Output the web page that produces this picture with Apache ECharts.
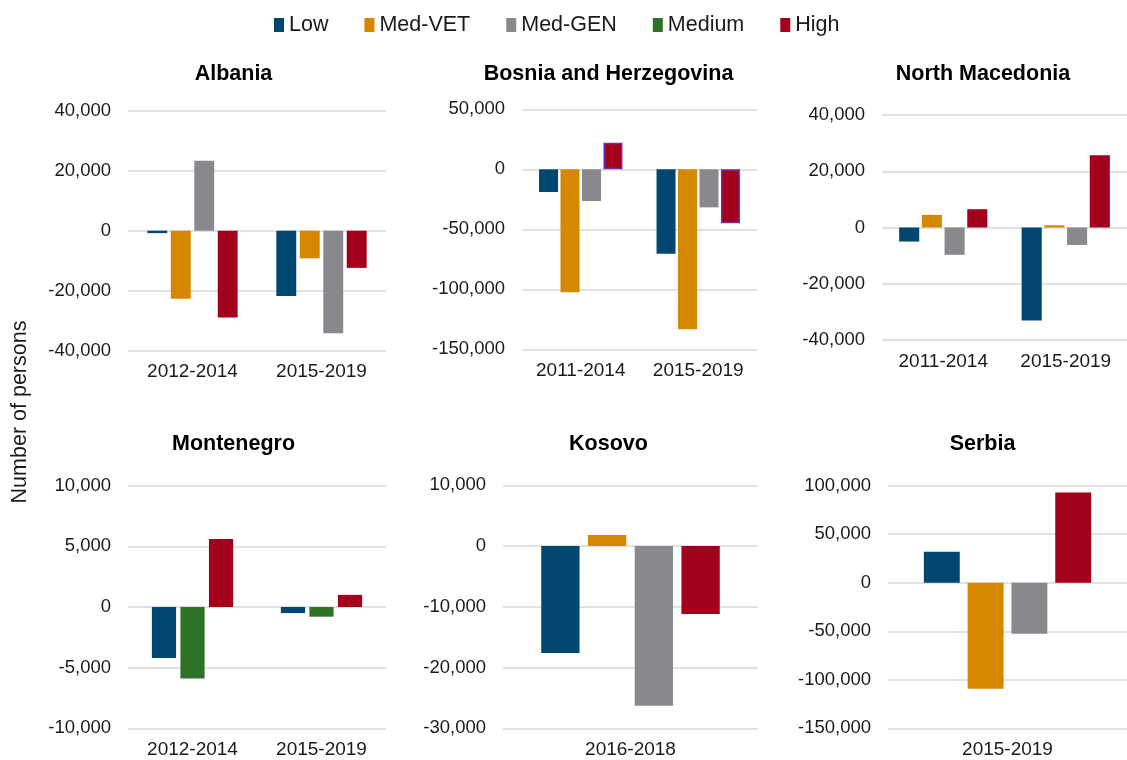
<!DOCTYPE html>
<html>
<head>
<meta charset="utf-8">
<script src="https://cdn.jsdelivr.net/npm/echarts@6/dist/echarts.min.js"></script>
<style>
html,body{margin:0;padding:0;background:#fff;}
#chart{width:1127px;height:760px;}
</style>
</head>
<body>
<div id="chart"></div>
<script>
// ---- Data ----
const seriesNames = ['Low', 'Med-VET', 'Med-GEN', 'Medium', 'High'];

const albaniaCats = ['2012-2014', '2015-2019'];
const albaniaLow = [-800, -21800];
const albaniaMedVET = [-22700, -9200];
const albaniaMedGEN = [23300, -34200];
const albaniaHigh = [-28900, -12400];

const bosniaCats = ['2011-2014', '2015-2019'];
const bosniaLow = [-18900, -70300];
const bosniaMedVET = [-102500, -133300];
const bosniaMedGEN = [-26400, -31700];
const bosniaHigh = [22200, -45000];

const macedoniaCats = ['2011-2014', '2015-2019'];
const macedoniaLow = [-5000, -33100];
const macedoniaMedVET = [4500, 800];
const macedoniaMedGEN = [-9700, -6200];
const macedoniaHigh = [6500, 25700];

const montenegroCats = ['2012-2014', '2015-2019'];
const montenegroLow = [-4200, -500];
const montenegroMedium = [-5900, -800];
const montenegroHigh = [5600, 1000];

const kosovoCats = ['2016-2018'];
const kosovoLow = [-17600];
const kosovoMedVET = [1800];
const kosovoMedGEN = [-26300];
const kosovoHigh = [-11200];

const serbiaCats = ['2015-2019'];
const serbiaLow = [32000];
const serbiaMedVET = [-109300];
const serbiaMedGEN = [-52600];
const serbiaHigh = [93100];

// ---- Styling ----
const colors = {
  'Low': '#00476f',
  'Med-VET': '#d68700',
  'Med-GEN': '#89888c',
  'Medium': '#2e7227',
  'High': '#a3001c'
};
const FONT = "'Liberation Sans', Arial, sans-serif";
const TXT = '#1a1a1a';

const panels = [
  { title: 'Albania', cx: 228.5, ty: 58, cats: albaniaCats,
    grid: {left: 128, top: 110.7, width: 258, height: 240},
    y: {min: -40000, max: 40000, interval: 20000},
    gap: '18%', catGap: '30%',
    series: [['Low', albaniaLow], ['Med-VET', albaniaMedVET], ['Med-GEN', albaniaMedGEN], ['High', albaniaHigh]] },
  { title: 'Bosnia and Herzegovina', cx: 603.5, ty: 58, cats: bosniaCats,
    grid: {left: 522, top: 109.3, width: 235, height: 240},
    y: {min: -150000, max: 50000, interval: 50000},
    gap: '13%', catGap: '29%', highBorder: '#7030a0',
    series: [['Low', bosniaLow], ['Med-VET', bosniaMedVET], ['Med-GEN', bosniaMedGEN], ['High', bosniaHigh]] },
  { title: 'North Macedonia', cx: 978, ty: 58, cats: macedoniaCats,
    grid: {left: 882, top: 115, width: 249, height: 225},
    y: {min: -40000, max: 40000, interval: 20000},
    gap: '13%', catGap: '28%',
    series: [['Low', macedoniaLow], ['Med-VET', macedoniaMedVET], ['Med-GEN', macedoniaMedGEN], ['High', macedoniaHigh]] },
  { title: 'Montenegro', cx: 228.5, ty: 428, cats: montenegroCats,
    grid: {left: 128, top: 485.7, width: 258, height: 242.6},
    y: {min: -10000, max: 10000, interval: 5000},
    gap: '18%', catGap: '37%',
    series: [['Low', montenegroLow], ['Medium', montenegroMedium], ['High', montenegroHigh]] },
  { title: 'Kosovo', cx: 603.5, ty: 428, cats: kosovoCats,
    grid: {left: 503, top: 485.3, width: 255, height: 243},
    y: {min: -30000, max: 10000, interval: 10000},
    gap: '22%', catGap: '30%',
    series: [['Low', kosovoLow], ['Med-VET', kosovoMedVET], ['Med-GEN', kosovoMedGEN], ['High', kosovoHigh]] },
  { title: 'Serbia', cx: 977.5, ty: 428, cats: serbiaCats,
    grid: {left: 888, top: 485.7, width: 247, height: 242.6},
    y: {min: -150000, max: 100000, interval: 50000},
    gap: '22%', catGap: '30%',
    series: [['Low', serbiaLow], ['Med-VET', serbiaMedVET], ['Med-GEN', serbiaMedGEN], ['High', serbiaHigh]] }
];

const fmt = v => v.toLocaleString('en-US');

const option = {
  animation: false,
  backgroundColor: '#fff',
  textStyle: {fontFamily: FONT},
  legend: {
    left: 269, top: 9,
    itemWidth: 10, itemHeight: 14, itemGap: 36,
    icon: 'rect',
    data: seriesNames,
    textStyle: {fontFamily: FONT, fontSize: 21.5, color: TXT}
  },
  title: [],
  grid: [],
  xAxis: [],
  yAxis: [],
  series: [],
  graphic: [{
    type: 'text', x: 20, y: 412, rotation: Math.PI / 2,
    style: {text: 'Number of persons', fontSize: 21.5, fontFamily: FONT, fill: TXT,
            textAlign: 'center', textVerticalAlign: 'middle'}
  }]
};

panels.forEach((p, i) => {
  option.title.push({
    text: p.title, left: p.cx, top: p.ty, textAlign: 'center',
    textStyle: {fontFamily: FONT, fontSize: 21.5, fontWeight: 'bold', color: '#000'}
  });
  option.grid.push(Object.assign({containLabel: false}, p.grid));
  option.xAxis.push({
    type: 'category', gridIndex: i, data: p.cats,
    axisLine: {show: false, onZero: false}, axisTick: {show: false},
    axisLabel: {fontFamily: FONT, fontSize: 19, color: TXT, margin: 12, interval: 0, hideOverlap: false}
  });
  option.yAxis.push({
    type: 'value', gridIndex: i, min: p.y.min, max: p.y.max, interval: p.y.interval,
    axisLine: {show: false}, axisTick: {show: false},
    axisLabel: {fontFamily: FONT, fontSize: 18.5, color: TXT, margin: 17, formatter: fmt},
    splitLine: {lineStyle: {color: '#d9d9d9', width: 1.5}}
  });
  p.series.forEach(([name, data]) => {
    const s = {
      type: 'bar', name: name, xAxisIndex: i, yAxisIndex: i, data: data,
      barGap: p.gap, barCategoryGap: p.catGap,
      itemStyle: {color: colors[name]},
      emphasis: {disabled: true}
    };
    if (name === 'High' && p.highBorder) {
      s.itemStyle.borderColor = p.highBorder;
      s.itemStyle.borderWidth = 1.5;
    }
    option.series.push(s);
  });
});

const chart = echarts.init(document.getElementById('chart'), null, {renderer: 'canvas'});
chart.setOption(option);
</script>
</body>
</html>
